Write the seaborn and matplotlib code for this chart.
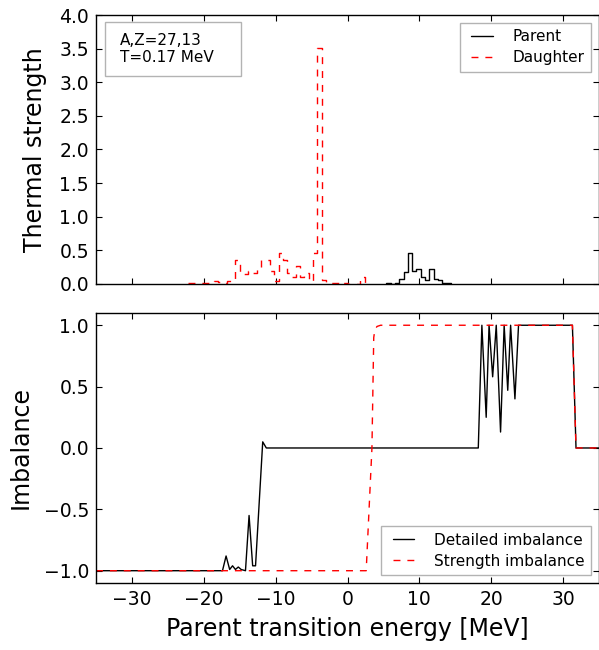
import numpy as np
import pandas as pd
import seaborn as sns
import matplotlib.pyplot as plt
from matplotlib.lines import Line2D
from matplotlib.patches import Rectangle

# ---- datos ----
# histograma de intensidad termica (bins de 0.6 MeV)
bin_w = 0.6
hija_lo, hija_hi = -22.2, 3.0
hija_vals = [0.02, 0.02, 0.02, 0.01, 0.01, 0.02, 0.04, 0.03, 0.02, 0.04,
             0.07, 0.36, 0.15, 0.15, 0.20, 0.17, 0.25, 0.35, 0.35, 0.20,
             0.05, 0.46, 0.35, 0.17, 0.10, 0.27, 0.10, 0.17, 0.05, 0.46,
             3.51, 0.06, 0.01, 0.01, 0.01, 0.0, 0.02, 0.0, 0.0, 0.0,
             0.10, 0.0]
padre_lo, padre_hi = 5.4, 14.4
padre_vals = [0.01, 0.0, 0.02, 0.08, 0.18, 0.46, 0.20, 0.22, 0.10, 0.06,
              0.22, 0.07, 0.06, 0.02, 0.01]

# desbalance detallado
det_x = [-35, -17.4, -16.9, -16.4, -16.0, -15.6, -15.2, -14.8, -14.2, -13.7,
         -13.2, -12.8, -11.8, -11.3, 18.2, 18.7, 19.3, 19.7, 20.2, 20.7,
         21.3, 21.8, 22.3, 22.7, 23.3, 23.8, 31.3, 31.8, 35]
det_y = [-1.0, -1.0, -0.88, -0.99, -0.96, -0.99, -0.97, -0.99, -1.0, -0.55,
         -0.96, -0.96, 0.05, 0.0, 0.0, 1.0, 0.25, 1.0, 0.58, 1.0,
         0.13, 1.0, 0.47, 1.0, 0.40, 1.0, 1.0, 0.0, 0.0]

# desbalance de intensidad
str_x = [-35, 2.6, 3.4, 3.65, 3.8, 4.1, 4.6, 5.5, 31.3, 31.8, 35]
str_y = [-1.0, -1.0, 0.0, 0.9, 0.96, 0.99, 1.0, 1.0, 1.0, 0.0, 0.0]

xticks = [-30, -20, -10, 0, 10, 20, 30]
yticks_top = [0.0, 0.5, 1.0, 1.5, 2.0, 2.5, 3.0, 3.5, 4.0]
yticks_bot = [-1.0, -0.5, 0.0, 0.5, 1.0]
texto = "A,Z=27,13\nT=0.17 MeV"

sns.set_style("ticks")
plt.rcParams['font.family'] = ['DejaVu Sans']
plt.rcParams['text.color'] = 'k'
plt.rcParams['axes.labelcolor'] = 'k'
plt.rcParams['xtick.color'] = 'k'
plt.rcParams['ytick.color'] = 'k'

fig = plt.figure(figsize=(5.99, 6.5), dpi=100)
ax1 = fig.add_axes([0.1603, 0.5631, 0.8397, 0.4138])
ax2 = fig.add_axes([0.1603, 0.1031, 0.8397, 0.4154])

def tabla_hist(lo, hi, vals):
    # bordes de los bins; el ultimo valor se repite para cerrar el escalon
    bordes = np.round(np.arange(lo, hi + bin_w / 2, bin_w), 3)
    return pd.DataFrame({'E': bordes, 'S': list(vals) + [vals[-1]]})

df_p = tabla_hist(padre_lo, padre_hi, padre_vals)
df_h = tabla_hist(hija_lo, hija_hi, hija_vals)

sns.lineplot(data=df_p, x='E', y='S', drawstyle='steps-post', color='k',
             linewidth=1, estimator=None, sort=False, ax=ax1)
sns.lineplot(data=df_h, x='E', y='S', drawstyle='steps-post', color='red',
             linewidth=1, estimator=None, sort=False,
             linestyle=(0, (5, 5)), ax=ax1)

sns.lineplot(x=det_x, y=det_y, color='k', linewidth=1, estimator=None,
             sort=False, ax=ax2)
sns.lineplot(x=str_x, y=str_y, color='red', linewidth=1, estimator=None,
             sort=False, linestyle=(0, (5, 5)), ax=ax2)

leg_kw = dict(fontsize=11, numpoints=2, handlelength=2.0, borderpad=0.44,
              handletextpad=1.0, labelspacing=0.4, fancybox=False,
              framealpha=1, edgecolor='0.7')
h_top = [Line2D([], [], color='k', lw=1),
         Line2D([], [], color='red', lw=1, linestyle=(0, (5, 5)))]
ax1.legend(h_top, ['Parent', 'Daughter'], loc='upper right', **leg_kw)
ax2.legend(h_top, ['Detailed imbalance', 'Strength imbalance'],
           loc='lower right', **leg_kw)

# cuadro de texto
ax1.add_patch(Rectangle((0.018, 0.773), 0.271, 0.202, transform=ax1.transAxes,
                        facecolor='white', edgecolor='0.7', lw=1, zorder=5))
ax1.text(0.048, 0.874, texto, transform=ax1.transAxes, fontsize=11,
         va='center', ha='left', zorder=6, linespacing=1.2)

for ax in (ax1, ax2):
    ax.set_xlim(-35, 35)
    ax.set_xticks(xticks)
    ax.tick_params(direction='in', top=True, right=True, length=4.3,
                   width=0.8, labelsize=13.5, pad=5, colors='k')
    for s in ax.spines.values():
        s.set_visible(True)
        s.set_color('k')
        s.set_linewidth(1)

ax1.set_ylim(0, 4.0)
ax1.set_yticks(yticks_top)
ax1.set_yticklabels([f"{v:.1f}" for v in yticks_top])
ax1.tick_params(labelbottom=False)
ax1.set_xlabel('')
ax1.set_ylabel('Thermal strength', fontsize=17)
ax1.yaxis.set_label_coords(-0.097, 0.5)

ax2.set_ylim(-1.1, 1.1)
ax2.set_yticks(yticks_bot)
ax2.set_yticklabels([f"{v:.1f}".replace('-', '\u2212') for v in yticks_bot])
ax2.set_xticklabels([str(v).replace('-', '\u2212') for v in xticks])
ax2.set_ylabel('Imbalance', fontsize=17)
ax2.yaxis.set_label_coords(-0.127, 0.5)
ax2.set_xlabel('Parent transition energy [MeV]', fontsize=17)
ax2.xaxis.set_label_coords(0.5, -0.125)

fig.savefig('out.png', dpi=100)
